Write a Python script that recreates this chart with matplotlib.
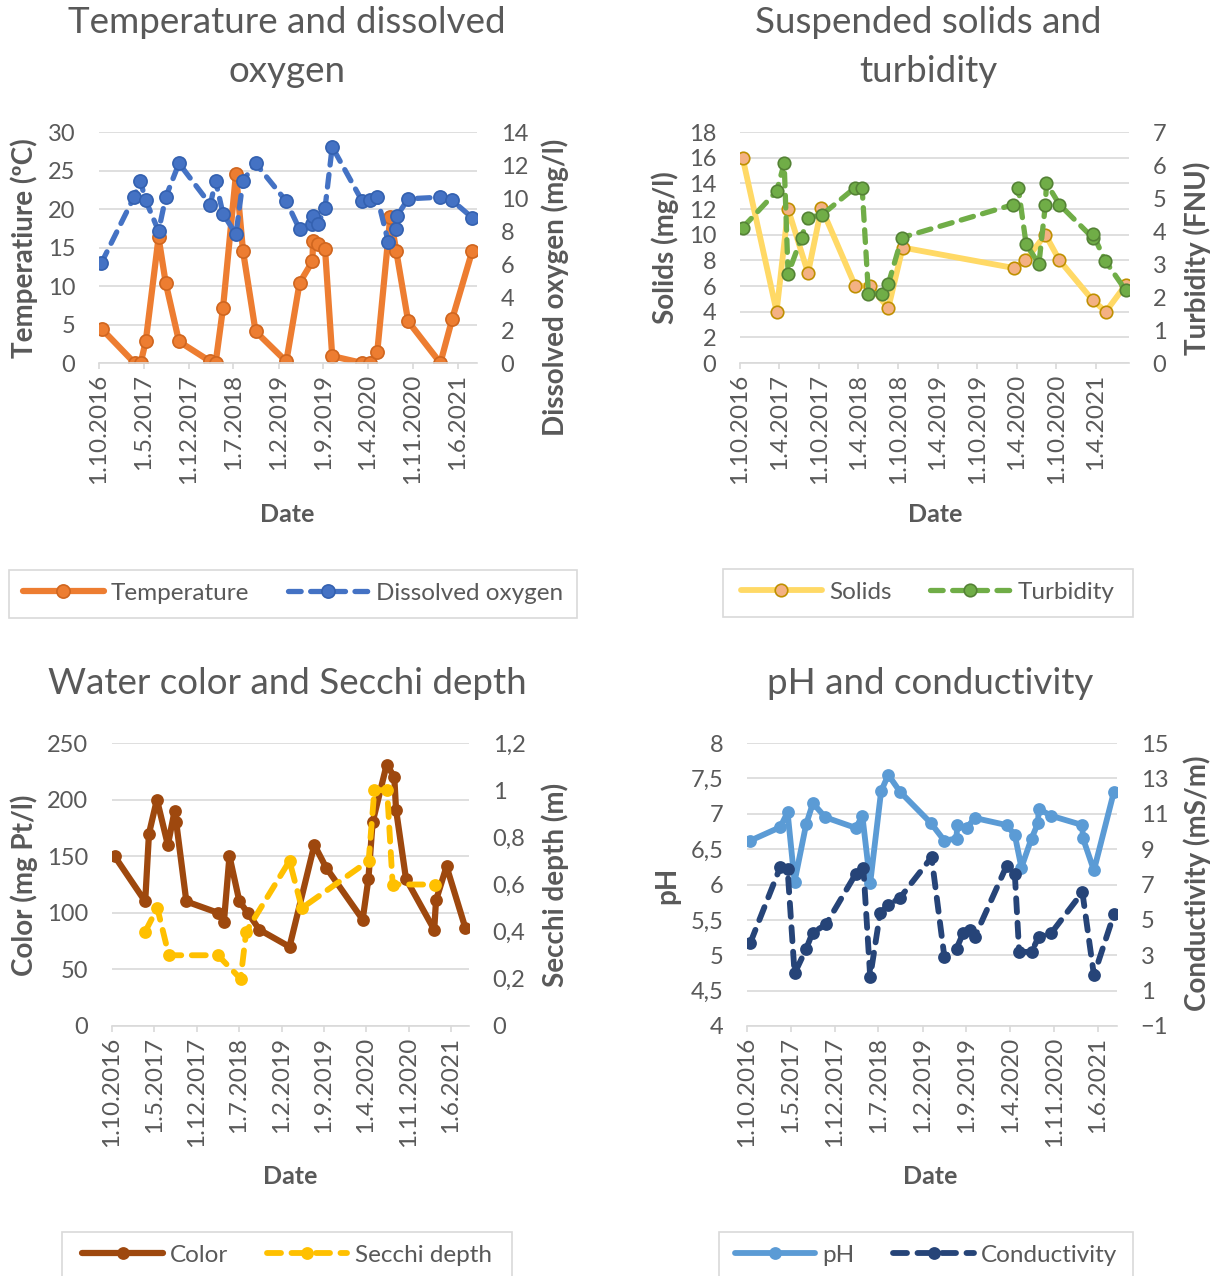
import matplotlib
matplotlib.use('Agg')
import matplotlib.pyplot as plt
from matplotlib.patches import Rectangle
from matplotlib.ticker import FuncFormatter, MultipleLocator, FixedLocator
import pandas as pd

plt.rcParams['font.family'] = ['Lato', 'DejaVu Sans']

### DATA
# Temperature and dissolved oxygen
temp_dates = ['15.10.2016', '19.3.2017', '17.4.2017', '11.5.2017', '11.7.2017', '14.8.2017',
              '16.10.2017', '14.3.2018', '8.4.2018', '13.5.2018', '14.7.2018', '16.8.2018',
              '15.10.2018', '10.3.2019', '12.5.2019', '12.7.2019', '15.7.2019', '7.8.2019',
              '10.9.2019', '14.10.2019', '5.3.2020', '11.4.2020', '15.5.2020', '16.7.2020',
              '13.8.2020', '9.10.2020', '11.3.2021', '6.5.2021', '10.8.2021']
temperature = [4.4, 0.0, 0.0, 2.8, 16.3, 10.4, 2.8, 0.2, 0.0, 7.1, 24.6, 14.6, 4.1, 0.2,
               10.4, 13.2, 15.8, 15.4, 14.8, 0.9, 0.0, 0.0, 1.4, 19.0, 14.6, 5.4, 0.0, 5.7, 14.6]
oxygen_dates = ['12.10.2016', '16.3.2017', '15.4.2017', '11.5.2017', '11.7.2017', '14.8.2017',
                '16.10.2017', '14.3.2018', '8.4.2018', '13.5.2018', '14.7.2018', '16.8.2018',
                '15.10.2018', '10.3.2019', '12.5.2019', '12.7.2019', '15.7.2019', '7.8.2019',
                '10.9.2019', '14.10.2019', '5.3.2020', '11.4.2020', '15.5.2020', '6.7.2020',
                '10.8.2020', '16.8.2020', '9.10.2020', '11.3.2021', '6.5.2021', '10.8.2021']
oxygen = [6.05, 10.05, 11.05, 9.85, 8.0, 10.05, 12.1, 9.6, 11.05, 9.05, 7.8, 11.05, 12.1,
          9.8, 8.1, 8.4, 8.9, 8.4, 9.4, 13.1, 9.8, 9.85, 10.05, 7.35, 8.15, 8.9, 9.95,
          10.05, 9.85, 8.8]

# Suspended solids and turbidity
solids_dates = ['13.10.2016', '19.3.2017', '11.5.2017', '11.8.2017', '12.10.2017', '17.3.2018',
                '22.5.2018', '17.8.2018', '22.10.2018', '19.3.2020', '11.5.2020', '11.8.2020',
                '15.10.2020', '17.3.2021', '17.5.2021', '17.8.2021']
solids = [16.0, 4.0, 12.0, 7.0, 12.1, 6.0, 6.0, 4.3, 9.0, 7.4, 8.0, 10.0, 8.0, 4.9, 4.0, 6.1]
turbidity_dates = ['13.10.2016', '19.3.2017', '23.4.2017', '11.5.2017', '12.7.2017', '11.8.2017',
                   '16.10.2017', '14.3.2018', '18.4.2018', '17.5.2018', '19.7.2018', '17.8.2018',
                   '18.10.2018', '16.3.2020', '8.4.2020', '14.5.2020', '12.7.2020', '11.8.2020',
                   '16.8.2020', '15.10.2020', '17.3.2021', '19.3.2021', '14.5.2021', '17.8.2021']
turbidity = [4.1, 5.2, 6.05, 2.7, 3.8, 4.4, 4.5, 5.3, 5.3, 2.1, 2.1, 2.4, 3.8, 4.8, 5.3,
             3.6, 3.0, 4.8, 5.45, 4.8, 3.8, 3.9, 3.1, 2.2]

# Water color and Secchi depth
color_dates = ['14.10.2016', '17.3.2017', '5.4.2017', '15.5.2017', '9.7.2017', '12.8.2017',
               '20.8.2017', '10.10.2017', '18.3.2018', '17.4.2018', '15.5.2018', '4.7.2018',
               '15.8.2018', '13.10.2018', '13.3.2019', '16.7.2019', '13.9.2019', '15.3.2020',
               '13.4.2020', '4.5.2020', '14.7.2020', '21.8.2020', '30.8.2020', '19.10.2020',
               '10.3.2021', '19.3.2021', '11.5.2021', '13.8.2021']
water_color = [150, 110, 170, 200, 160, 190, 180, 110, 100, 92, 150, 110, 100, 85, 70, 160,
               140, 94, 130, 180, 231, 220, 191, 130, 85, 111, 141, 87]
secchi_dates = ['17.3.2017', '17.5.2017', '14.7.2017', '18.3.2018', '10.7.2018', '7.8.2018',
                '13.3.2019', '14.5.2019', '14.4.2020', '13.5.2020', '16.7.2020', '13.8.2020',
                '15.3.2021']
secchi = [0.4, 0.5, 0.3, 0.3, 0.2, 0.4, 0.7, 0.5, 0.7, 1.0, 1.0, 0.6, 0.6]

# pH and conductivity
ph_dates = ['17.10.2016', '11.3.2017', '16.4.2017', '20.5.2017', '15.7.2017', '17.8.2017',
            '16.10.2017', '13.3.2018', '14.4.2018', '22.5.2018', '14.7.2018', '18.8.2018',
            '14.10.2018', '12.3.2019', '17.5.2019', '15.7.2019', '18.7.2019', '2.9.2019',
            '12.10.2019', '14.3.2020', '23.4.2020', '25.5.2020', '13.7.2020', '14.8.2020',
            '16.8.2020', '18.10.2020', '17.3.2021', '19.3.2021', '12.5.2021', '17.8.2021']
ph = [6.62, 6.81, 7.02, 6.04, 6.85, 7.15, 6.95, 6.80, 6.97, 6.02, 7.32, 7.55, 7.31, 6.87,
      6.62, 6.65, 6.84, 6.80, 6.94, 6.84, 6.70, 6.24, 6.65, 6.87, 7.07, 6.97, 6.84, 6.66,
      6.20, 7.31]
cond_dates = ['17.10.2016', '11.3.2017', '16.4.2017', '20.5.2017', '14.7.2017', '15.8.2017',
              '19.10.2017', '13.3.2018', '19.4.2018', '22.5.2018', '9.7.2018', '18.8.2018',
              '14.10.2018', '16.3.2019', '17.5.2019', '15.7.2019', '17.8.2019', '18.9.2019',
              '12.10.2019', '14.3.2020', '23.4.2020', '14.5.2020', '13.7.2020', '17.8.2020',
              '18.10.2020', '17.3.2021', '12.5.2021', '17.8.2021']
conductivity = [3.70, 7.97, 7.86, 1.97, 3.33, 4.27, 4.74, 7.60, 7.92, 1.78, 5.37, 5.84,
                6.25, 8.54, 2.91, 3.38, 4.27, 4.42, 4.04, 8.05, 7.60, 3.19, 3.19, 4.04,
                4.27, 6.56, 1.87, 5.31]

# Axis ticks
ticks_7m = ['1.10.2016', '1.5.2017', '1.12.2017', '1.7.2018', '1.2.2019', '1.9.2019',
            '1.4.2020', '1.11.2020', '1.6.2021']
ticks_6m = ['1.10.2016', '1.4.2017', '1.10.2017', '1.4.2018', '1.10.2018', '1.4.2019',
            '1.10.2019', '1.4.2020', '1.10.2020', '1.4.2021']
cond_ticks = [-1, 1, 3, 5, 7, 9, 11, 13, 15]
x_start, x_end = '1.10.2016', '1.9.2021'

### STYLE
W, H = 1217, 1276
TXT = '#595959'
GRID = '#d9d9d9'
YTICK_FS = 17
XTICK_FS = 17.5
VLABEL_FS = 20
HLABEL_FS = 18
LEGEND_FS = 17.5
TITLE_FS = 26.5
DASH = (0, (2.4, 1.8))


def d(lst):
    return pd.to_datetime(lst, format='%d.%m.%Y')


def comma(v, pos):
    return f'{round(v, 2):g}'.replace('.', ',')


fig = plt.figure(figsize=(W / 100, H / 100), dpi=100)


def px_axes(left, top, right, bottom):
    return fig.add_axes([left / W, 1 - bottom / H, (right - left) / W, (bottom - top) / H])


def style(ax, ax2, ticks, ylim, ystep, y2lim, y2ticks, fmt1=None, fmt2=None):
    ax.set_xlim(d([x_start])[0], d([x_end])[0])
    ax.set_xticks(d(ticks))
    ax.set_xticklabels(ticks)
    ax.set_ylim(*ylim)
    ax.yaxis.set_major_locator(MultipleLocator(ystep))
    ax2.set_ylim(*y2lim)
    ax2.yaxis.set_major_locator(FixedLocator(y2ticks))
    if fmt1:
        ax.yaxis.set_major_formatter(FuncFormatter(fmt1))
    if fmt2:
        ax2.yaxis.set_major_formatter(FuncFormatter(fmt2))
    for a in (ax, ax2):
        for s in ('top', 'left', 'right', 'bottom'):
            a.spines[s].set_visible(False)
    ax.spines['bottom'].set_visible(True)
    ax.spines['bottom'].set_color(GRID)
    ax.spines['bottom'].set_linewidth(1.2)
    ax.grid(axis='y', color=GRID, lw=1.2)
    ax.set_axisbelow(True)
    ax.tick_params(axis='x', direction='out', length=4, color=GRID, width=1.2,
                   labelrotation=90, labelsize=XTICK_FS, labelcolor=TXT, pad=4)
    ax.tick_params(axis='y', length=0, labelsize=YTICK_FS, labelcolor=TXT, pad=17)
    ax2.tick_params(axis='y', length=0, labelsize=YTICK_FS, labelcolor=TXT, pad=17)


def series(ax, dates, vals, line, face, edge, ls='-', lw=4.2, ms=9.5):
    return ax.plot(d(dates), vals, color=line, ls=ls, lw=lw, marker='o', ms=ms,
                   markerfacecolor=face, markeredgecolor=edge, markeredgewidth=1.2,
                   solid_capstyle='round', dash_capstyle='round')[0]


def ftext(x, y, s, **kw):
    fig.text(x / W, 1 - y / H, s, ha='center', va='center', color=TXT, **kw)


def vlabel(x, y, s):
    ftext(x, y, s, fontsize=VLABEL_FS, fontweight='bold', rotation=90)


def legend_box(left, top, right, bottom, handles, labels, cspace):
    fig.patches.append(Rectangle((left / W, 1 - bottom / H), (right - left) / W,
                                 (bottom - top) / H, transform=fig.transFigure,
                                 fill=False, edgecolor=GRID, lw=1.2))
    fig.legend(handles, labels, loc='center',
               bbox_to_anchor=((left + right) / 2 / W, 1 - (top + 23) / H),
               ncol=2, frameon=False, fontsize=LEGEND_FS, handlelength=3.3,
               handletextpad=0.3, columnspacing=cspace, labelcolor=TXT)


### PANEL 1: temperature and dissolved oxygen
ax = px_axes(99, 132, 477, 363)
ax2 = ax.twinx()
style(ax, ax2, ticks_7m, (0, 30), 5, (0, 14), range(0, 15, 2))
h1 = series(ax, temp_dates, temperature, '#ED7D31', '#ED7D31', '#D0661F', lw=4.5)
h2 = series(ax2, oxygen_dates, oxygen, '#4472C4', '#4472C4', '#3461B0', ls=DASH, lw=3.8)
ftext(287, 47, 'Temperature and dissolved\noxygen', fontsize=TITLE_FS, linespacing=1.57)
vlabel(24, 248, 'Temperatiure (ºC)')
vlabel(555, 287, 'Dissolved oxygen (mg/l)')
ftext(287, 515, 'Date', fontsize=HLABEL_FS, fontweight='bold')
legend_box(9, 570, 577, 618, [h1, h2], ['Temperature', 'Dissolved oxygen'], 1.6)

### PANEL 2: suspended solids and turbidity
ax = px_axes(740, 132, 1129, 363)
ax2 = ax.twinx()
style(ax, ax2, ticks_6m, (0, 18), 2, (0, 7), range(0, 8))
h1 = series(ax, solids_dates, solids, '#FFD966', '#F4B183', '#BF9000', lw=4.2, ms=9)
h2 = series(ax2, turbidity_dates, turbidity, '#70AD47', '#70AD47', '#548235', ls=DASH,
            lw=3.8, ms=9)
ftext(928, 47, 'Suspended solids and\nturbidity', fontsize=TITLE_FS, linespacing=1.57)
vlabel(665, 248, 'Solids (mg/l)')
vlabel(1197, 258, 'Turbidity (FNU)')
ftext(935, 515, 'Date', fontsize=HLABEL_FS, fontweight='bold')
legend_box(723, 569, 1133, 617, [h1, h2], ['Solids', 'Turbidity'], 1.6)

### PANEL 3: water color and Secchi depth
ax = px_axes(112, 743, 469, 1026)
ax2 = ax.twinx()
style(ax, ax2, ticks_7m, (0, 250), 50, (0, 1.2), [0, 0.2, 0.4, 0.6, 0.8, 1.0, 1.2],
      fmt2=comma)
h1 = series(ax, color_dates, water_color, '#9E480E', '#9E480E', '#9E480E', lw=4.5, ms=8)
h2 = series(ax2, secchi_dates, secchi, '#FFC000', '#FFC000', '#FFC000', ls=DASH, lw=4.2, ms=8)
ftext(287, 684, 'Water color and Secchi depth', fontsize=TITLE_FS)
vlabel(24, 885, 'Color (mg Pt/l)')
vlabel(555, 885, 'Secchi depth (m)')
ftext(290, 1177, 'Date', fontsize=HLABEL_FS, fontweight='bold')
legend_box(62, 1232, 512, 1290, [h1, h2], ['Color', 'Secchi depth'], 1.6)

### PANEL 4: pH and conductivity
ax = px_axes(747, 743, 1117, 1026)
ax2 = ax.twinx()
style(ax, ax2, ticks_7m, (4, 8), 0.5, (-1, 15), cond_ticks, fmt1=comma)
h1 = series(ax, ph_dates, ph, '#5B9BD5', '#5B9BD5', '#5B9BD5', lw=4.2, ms=8)
h2 = series(ax2, cond_dates, conductivity, '#264478', '#264478', '#264478', ls=DASH,
            lw=4.2, ms=8)
ftext(930, 684, 'pH and conductivity', fontsize=TITLE_FS)
vlabel(667, 885, 'pH')
vlabel(1197, 883, 'Conductivity (mS/m)')
ftext(930, 1177, 'Date', fontsize=HLABEL_FS, fontweight='bold')
legend_box(719, 1232, 1133, 1290, [h1, h2], ['pH', 'Conductivity'], 1.6)

fig.savefig('out.png', dpi=100)
